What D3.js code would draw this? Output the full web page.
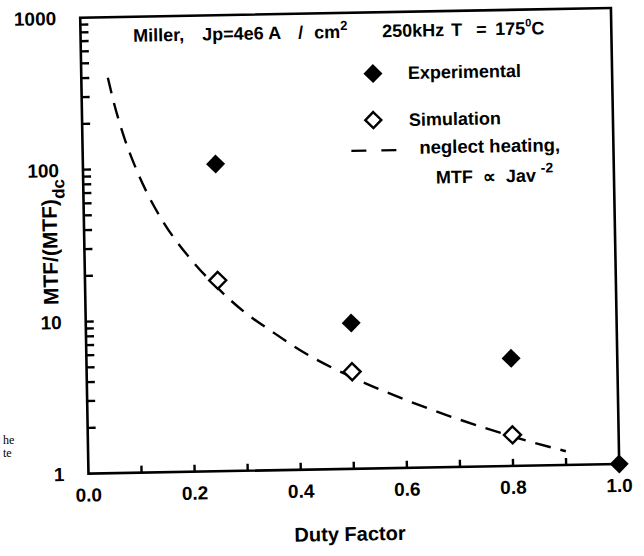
<!DOCTYPE html>
<html>
<head>
<meta charset="utf-8">
<script src="https://cdn.jsdelivr.net/npm/d3@7"></script>
<style>
  body { margin: 0; background: #fff; }
  svg { display: block; }
  text { font-family: "Liberation Sans", Arial, Helvetica, sans-serif; fill: #000; white-space: pre; }
</style>
</head>
<body>
<div id="main"></div>
<script>
const ctx = {
    w: 644,
    h: 556,
    tilt: -1.04   // scan is slightly rotated
};
const margin = { top: 12.8, left: 84.3, width: 530.8, height: 456 };

// experimental (filled diamonds)
const expDuty = [0.25, 0.5, 0.8, 1.0];
const expMTF = [105, 9.1, 5.1, 1.0];
// simulation (open diamonds)
const simDuty = [0.25, 0.5, 0.8];
const simMTF = [18, 4.35, 1.6];
// neglect heating curve
const curveDuty = [0.05, 0.06, 0.08, 0.10, 0.12, 0.15, 0.20, 0.25, 0.30, 0.35, 0.40, 0.50, 0.60, 0.70, 0.80, 0.90];
const curveMTF = [400, 278, 156, 100, 69, 44, 25, 16, 11, 8.2, 6.2, 4.0, 2.8, 2.05, 1.56, 1.23];

const xTicks = [0.0, 0.2, 0.4, 0.6, 0.8, 1.0];
const xMinorTicks = [0.1, 0.2, 0.3, 0.4, 0.5, 0.6, 0.7, 0.8, 0.9];
const yTicks = [1, 10, 100, 1000];
const yMinorTicks = [2, 3, 4, 5, 6, 7, 8, 9, 10, 20, 30, 40, 50, 60, 70, 80, 90, 100, 200, 300, 400, 500, 600, 700, 800, 900];

let x, y;

function diamond(r) {
    return `M0,${-r}L${r},0L0,${r}L${-r},0Z`;
}

function createViz() {
    const svgEl = d3.select("#main").append("svg")
        .attr("width", ctx.w)
        .attr("height", ctx.h);

    // stray text from the neighbouring page in the scan
    svgEl.append("text").attr("x", 3).attr("y", 444)
        .style("font-family", "'Liberation Serif', 'Times New Roman', serif")
        .style("font-size", "12px").text("he");
    svgEl.append("text").attr("x", 3).attr("y", 457)
        .style("font-family", "'Liberation Serif', 'Times New Roman', serif")
        .style("font-size", "12px").text("te");

    const cx = margin.left + margin.width / 2;
    const cy = margin.top + margin.height / 2;
    const rootG = svgEl.append("g")
        .attr("id", "rootG")
        .attr("transform", `rotate(${ctx.tilt},${cx},${cy})`);

    x = d3.scaleLinear().domain([0, 1]).range([margin.left, margin.left + margin.width]);
    y = d3.scaleLog().domain([1, 1000]).range([margin.top + margin.height, margin.top]);

    const bottom = margin.top + margin.height;

    // inward ticks on the left (log) and bottom axes
    rootG.append("g").selectAll("line").data(yMinorTicks).enter().append("line")
        .attr("x1", margin.left).attr("x2", margin.left + 8)
        .attr("y1", d => y(d)).attr("y2", d => y(d))
        .attr("stroke", "#000").attr("stroke-width", 2.4);

    rootG.append("g").selectAll("line").data(xMinorTicks).enter().append("line")
        .attr("x1", d => x(d)).attr("x2", d => x(d))
        .attr("y1", bottom).attr("y2", bottom - 7)
        .attr("stroke", "#000").attr("stroke-width", 2.4);

    // frame
    rootG.append("rect")
        .attr("x", margin.left).attr("y", margin.top)
        .attr("width", margin.width).attr("height", margin.height)
        .attr("fill", "none").attr("stroke", "#000").attr("stroke-width", 2.6);

    // tick labels
    rootG.selectAll(".ylab").data(yTicks).enter().append("text")
        .attr("x", margin.left - 24)
        .attr("y", d => y(d) + 7)
        .attr("text-anchor", "end")
        .style("font-size", "19px").style("font-weight", "bold")
        .text(d => d);

    rootG.selectAll(".xlab").data(xTicks).enter().append("text")
        .attr("x", d => x(d))
        .attr("y", bottom + 28)
        .attr("text-anchor", "middle")
        .style("font-size", "19px").style("font-weight", "bold")
        .text(d => d.toFixed(1));

    // axis titles
    rootG.append("text")
        .attr("x", cx - 5).attr("y", bottom + 72)
        .attr("text-anchor", "middle")
        .style("font-size", "20px").style("font-weight", "bold")
        .text("Duty Factor");

    const yt = rootG.append("text")
        .attr("transform", `translate(${margin.left - 27},${cy - 4}) rotate(-90)`)
        .attr("text-anchor", "middle")
        .style("font-size", "21px").style("font-weight", "bold");
    yt.append("tspan").text("MTF/(MTF)");
    yt.append("tspan").attr("dy", 8).style("font-size", "17px").text("dc");

    // title line
    const titleY = margin.top + 25;
    const tt = rootG.append("text").attr("y", titleY)
        .style("font-size", "18px").style("font-weight", "bold");
    tt.append("tspan").attr("x", 137).text("Miller,");
    tt.append("tspan").attr("x", 206).text("Jp=4e6 A");
    tt.append("tspan").attr("x", 302).text("/");
    tt.append("tspan").attr("x", 318).text("cm");
    tt.append("tspan").attr("dy", -8).style("font-size", "13px").text("2");
    tt.append("tspan").attr("x", 386).attr("dy", 8).text("250kHz");
    tt.append("tspan").attr("x", 455).text("T");
    tt.append("tspan").attr("x", 480).text("=");
    tt.append("tspan").attr("x", 499).text("175");
    tt.append("tspan").attr("dy", -8).style("font-size", "11px").text("0");
    tt.append("tspan").attr("dy", 8).text("C");

    // curve
    const line = d3.line()
        .x((d, i) => x(curveDuty[i]))
        .y(d => y(d))
        .curve(d3.curveMonotoneX);
    rootG.append("path")
        .attr("d", line(curveMTF))
        .attr("fill", "none").attr("stroke", "#000")
        .attr("stroke-width", 2.4)
        .attr("stroke-dasharray", "16,10");

    // simulation points
    rootG.selectAll(".sim").data(simMTF).enter().append("path")
        .attr("transform", (d, i) => `translate(${x(simDuty[i])},${y(d)})`)
        .attr("d", diamond(8.5))
        .attr("fill", "#fff").attr("stroke", "#000").attr("stroke-width", 2.4);

    // experimental points
    rootG.selectAll(".exp").data(expMTF).enter().append("path")
        .attr("transform", (d, i) => `translate(${x(expDuty[i])},${y(d)})`)
        .attr("d", diamond(9.5))
        .attr("fill", "#000");

    // legend
    const lg = rootG.append("g");
    lg.append("path").attr("transform", "translate(376,74)").attr("d", diamond(9.5)).attr("fill", "#000");
    lg.append("text").attr("x", 411).attr("y", 80)
        .style("font-size", "18px").style("font-weight", "bold").text("Experimental");
    lg.append("path").attr("transform", "translate(375.5,120.5)").attr("d", diamond(8))
        .attr("fill", "#fff").attr("stroke", "#000").attr("stroke-width", 2.4);
    lg.append("text").attr("x", 411).attr("y", 127)
        .style("font-size", "18px").style("font-weight", "bold").text("Simulation");
    lg.append("line").attr("x1", 353).attr("x2", 398).attr("y1", 151).attr("y2", 151)
        .attr("stroke", "#000").attr("stroke-width", 2.2).attr("stroke-dasharray", "15,15");
    lg.append("text").attr("x", 421).attr("y", 155)
        .style("font-size", "18.5px").style("font-weight", "bold").text("neglect heating,");
    const lt = lg.append("text").attr("x", 437).attr("y", 185)
        .style("font-size", "18px").style("font-weight", "bold");
    lt.append("tspan").text("MTF  \u221D  Jav ");
    lt.append("tspan").attr("dy", -9).style("font-size", "14px").text("-2");
}

createViz();
</script>
</body>
</html>
